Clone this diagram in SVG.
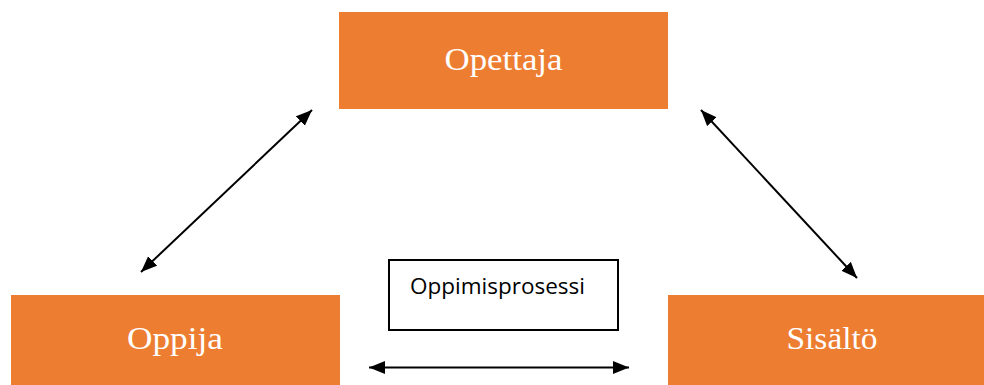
<svg xmlns="http://www.w3.org/2000/svg" width="984" height="385" viewBox="0 0 984 385">
  <style>
    .box { fill: #ED7D31; }
    .lbl { font-family: "Liberation Serif", "DejaVu Serif", serif; font-size: 31px; fill: #FFFFFF; text-anchor: middle; }
    .note { fill: #FFFFFF; stroke: #000000; stroke-width: 2; }
    .note-txt { font-family: "Open Sans", "Liberation Sans", sans-serif; font-size: 21px; fill: #000000; }
    .link { stroke: #000000; stroke-width: 2; fill: none; marker-start: url(#head); marker-end: url(#head); }
  </style>
  <defs>
    <marker id="head" markerUnits="userSpaceOnUse" markerWidth="17" markerHeight="14" refX="16" refY="7" orient="auto-start-reverse">
      <path d="M0,0.5 L16,7 L0,13.5 z" fill="#000000"/>
    </marker>
  </defs>

  <rect width="984" height="385" fill="#FFFFFF"/>

  <g id="opettaja">
    <rect class="box" x="339" y="12" width="329" height="97"/>
    <text class="lbl" x="503.5" y="70" textLength="118" lengthAdjust="spacingAndGlyphs">Opettaja</text>
  </g>

  <g id="oppija">
    <rect class="box" x="11" y="295" width="329" height="97"/>
    <text class="lbl" x="175" y="349" textLength="96" lengthAdjust="spacingAndGlyphs">Oppija</text>
  </g>

  <g id="sisalto">
    <rect class="box" x="668" y="295" width="329" height="97"/>
    <text class="lbl" x="832" y="349" textLength="91" lengthAdjust="spacingAndGlyphs">Sisältö</text>
  </g>

  <g id="oppimisprosessi">
    <rect class="note" x="389" y="260" width="229" height="70"/>
    <text class="note-txt" x="410" y="294" textLength="175" lengthAdjust="spacingAndGlyphs">Oppimisprosessi</text>
  </g>

  <g id="connectors">
    <line class="link" x1="141" y1="272" x2="312" y2="110"/>
    <line class="link" x1="701" y1="110" x2="857" y2="278"/>
    <line class="link" x1="369" y1="367.5" x2="629" y2="367.5"/>
  </g>
</svg>
